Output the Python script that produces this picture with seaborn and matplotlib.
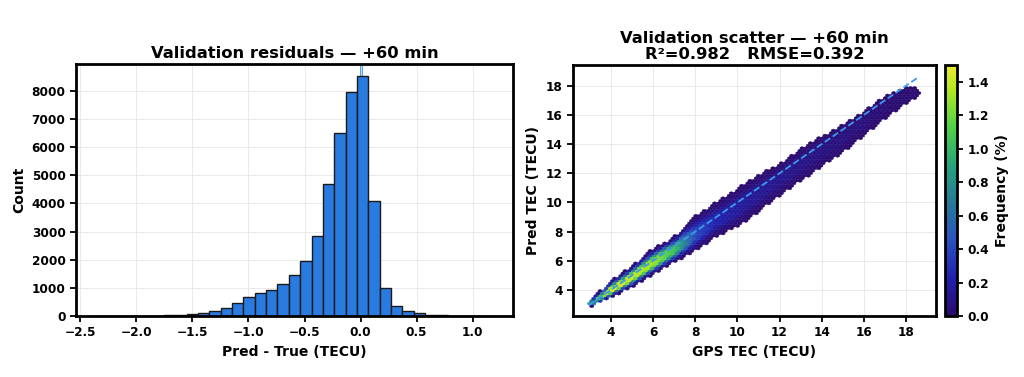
import matplotlib
matplotlib.use("Agg")
import matplotlib.pyplot as plt
import numpy as np
import pandas as pd
import seaborn as sns
from matplotlib.colors import LinearSegmentedColormap

# Residual histogram (Pred - True), 35 equal bins
resid_lo, resid_hi = -2.362, 1.183
resid_counts = [1, 2, 3, 5, 8, 12, 25, 45, 70, 95, 185, 300, 475, 665, 800, 910,
                1140, 1440, 1960, 2830, 4700, 6490, 7950, 8530, 4100, 1000, 370,
                190, 95, 45, 22, 10, 5, 2, 1]

# Scatter density ridge (GPS TEC vs predicted TEC)
gps_knots = [3.0, 4.0, 5.0, 6.0, 7.0, 8.0, 9.0, 10.0, 11.0, 12.0, 13.0, 14.0, 15.0, 16.0, 17.0, 18.0, 18.6]
band_low = [2.95, 3.6, 4.3, 5.2, 6.0, 6.8, 7.8, 8.4, 9.5, 10.6, 11.6, 12.6, 13.6, 14.7, 15.9, 16.9, 17.4]
band_mid = [3.0, 3.9, 4.85, 5.8, 6.75, 7.75, 8.7, 9.65, 10.6, 11.55, 12.5, 13.5, 14.4, 15.4, 16.4, 17.3, 17.5]
band_high = [3.1, 4.5, 5.5, 6.7, 7.5, 8.9, 9.9, 10.8, 11.8, 12.5, 13.6, 14.4, 15.2, 16.1, 17.2, 17.8, 17.7]
peak_freq = [1.1, 1.5, 1.4, 1.3, 1.05, 0.4, 0.22, 0.16, 0.13, 0.11, 0.09, 0.07, 0.06, 0.05, 0.03, 0.02, 0.02]

r2, rmse = 0.982, 0.392

cmap = LinearSegmentedColormap.from_list(
    "freq", [(0.0, "#2b0a6e"), (0.15, "#1f20b0"), (0.3, "#2a52c0"), (0.45, "#277a9a"),
             (0.6, "#27a37c"), (0.75, "#4fd04a"), (0.9, "#b0e820"), (1.0, "#ecea30")])


def main() -> None:
    sns.set_theme(style="ticks")
    plt.rcParams.update({
        "font.family": ["DejaVu Sans"],
        "font.weight": "bold",
        "axes.labelweight": "bold",
        "axes.titleweight": "bold",
        "axes.linewidth": 2.0,
        "axes.edgecolor": "black",
        "axes.labelcolor": "black",
        "text.color": "black",
        "xtick.color": "black",
        "ytick.color": "black",
    })

    fig = plt.figure(figsize=(10.24, 3.77), dpi=100)
    ax1 = fig.add_axes([0.0742, 0.1618, 0.4268, 0.6684])
    ax2 = fig.add_axes([0.5596, 0.1618, 0.3545, 0.6658])
    cax = fig.add_axes([0.9229, 0.1618, 0.0117, 0.6658])

    # Left: residual histogram
    nbins = len(resid_counts)
    width = (resid_hi - resid_lo) / nbins
    hist = pd.DataFrame({"resid": resid_lo + width * (np.arange(nbins) + 0.5),
                         "count": resid_counts})
    ax1.axvline(0.0, color="#3a9af0", linewidth=2, zorder=0.5)
    sns.histplot(data=hist, x="resid", weights="count", bins=nbins,
                 binrange=(resid_lo, resid_hi), ax=ax1,
                 color="#2a7be0", edgecolor="#1a1a1a", linewidth=1.0, alpha=1.0)
    ax1.set_yticks(range(0, 9000, 1000))
    ax1.grid(True, color="#e6e6e6", linewidth=0.6)
    ax1.set_axisbelow(True)
    ax1.set_title("Validation residuals — +60 min", fontsize=11.8, fontweight="bold", pad=4)
    ax1.set_xlabel("Pred - True (TECU)", fontsize=10)
    ax1.set_ylabel("Count", fontsize=10)
    ax1.tick_params(labelsize=8.7, width=1.3, length=4)

    # Right: hexbin density
    xs, ys, ws = [], [], []
    for x in np.arange(gps_knots[0], gps_knots[-1], 0.03):
        lo = np.interp(x, gps_knots, band_low)
        hi = np.interp(x, gps_knots, band_high)
        mid = np.interp(x, gps_knots, band_mid)
        pk = np.interp(x, gps_knots, peak_freq)
        for y in np.arange(lo, hi + 1e-9, 0.03):
            half = (hi - mid) if y >= mid else (mid - lo)
            d = min(abs(y - mid) / max(half, 1e-6), 1.0)
            xs.append(x)
            ys.append(y)
            ws.append(max(pk * min(1.0, 1.6 * (1 - d)) ** 1.5, 0.004))
    scat = pd.DataFrame({"gps": xs, "pred": ys, "freq": ws})

    hb = ax2.hexbin(scat["gps"], scat["pred"], C=scat["freq"], reduce_C_function=np.mean,
                    gridsize=80, extent=(2.9, 18.7, 2.9, 18.7), cmap=cmap, vmin=0, vmax=1.5,
                    mincnt=1, linewidths=0.3, edgecolors="face")
    lo = min(gps_knots[0], min(band_low))
    hi = max(gps_knots[-1], max(band_high))
    sns.lineplot(x=[lo, hi], y=[lo, hi], ax=ax2, color="#3a9af0", linestyle="--", linewidth=1.3)
    ax2.set_xlim(2.21, 19.42)
    ax2.set_ylim(2.22, 19.42)
    ax2.set_xticks(range(4, 19, 2))
    ax2.set_yticks(range(4, 19, 2))
    ax2.grid(True, color="#e6e6e6", linewidth=0.6)
    ax2.set_axisbelow(True)
    ax2.set_title(f"Validation scatter — +60 min\nR²={r2:.3f}   RMSE={rmse:.3f}",
                  fontsize=11.8, fontweight="bold", pad=4, linespacing=1.15)
    ax2.set_xlabel("GPS TEC (TECU)", fontsize=10)
    ax2.set_ylabel("Pred TEC (TECU)", fontsize=10)
    ax2.tick_params(labelsize=8.7, width=1.3, length=4)

    cb = fig.colorbar(hb, cax=cax)
    cb.set_label("Frequency (%)", fontsize=10, fontweight="bold")
    cb.set_ticks(np.arange(0, 1.41, 0.2))
    cb.ax.tick_params(labelsize=8.7, width=1.3, length=4)
    cb.outline.set_linewidth(2.0)

    fig.savefig("out.png", dpi=100)
    plt.close(fig)


if __name__ == "__main__":
    main()
